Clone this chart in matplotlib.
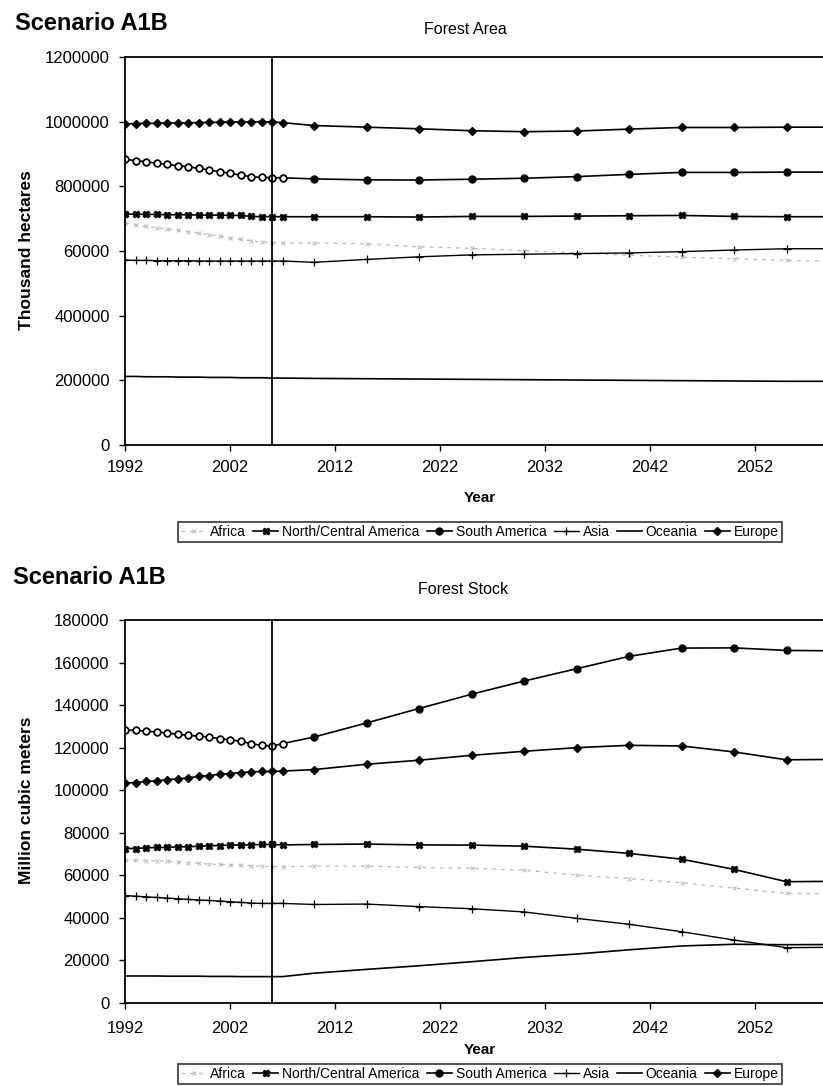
import matplotlib
matplotlib.use("Agg")
import matplotlib.pyplot as plt

plt.rcParams['font.family'] = ['Liberation Sans', 'DejaVu Sans']

# years: annual history to 2007, then 5-year projections
years = list(range(1992, 2008)) + list(range(2010, 2065, 5))
regions = ["Africa", "North/Central America", "South America", "Asia", "Oceania", "Europe"]

# Forest area, thousand hectares
africa_area = [686000, 681000, 676000, 672000, 668000, 664000, 660000, 655000, 651000, 646000, 641000, 636000,
               632000, 628000, 626000, 625000, 625000, 622000, 613000, 608000, 601000, 594000, 587000, 581000,
               576000, 571000, 569000]
ncamerica_area = [714000, 714000, 713000, 713000, 712000, 712000, 712000, 711000, 711000, 711000, 710000, 710000,
                  707000, 706000, 706000, 706000, 706000, 706000, 705000, 707000, 707000, 708000, 709000, 710000,
                  707000, 706000, 706000]
samerica_area = [883900, 879500, 876400, 871200, 868200, 863800, 860700, 855500, 850600, 845300, 840200, 834900,
                 829800, 827700, 827000, 826500, 823000, 820000, 819500, 822000, 825000, 830000, 837000, 843000,
                 843000, 844000, 844000]
asia_area = [572000, 571000, 571000, 570000, 570000, 570000, 570000, 569000, 569000, 569000, 569000, 569000,
             569000, 569000, 569000, 569000, 565000, 574000, 582000, 588000, 590000, 592000, 594000, 598000,
             603000, 607000, 607000]
oceania_area = [212000, 212000, 211000, 211000, 211000, 210000, 210000, 210000, 209000, 209000, 209000, 208000,
                208000, 208000, 207000, 207000, 206000, 205000, 204000, 203000, 202000, 201000, 200000, 199000,
                198000, 197000, 197000]
europe_area = [993000, 994000, 995000, 995000, 996000, 996000, 997000, 997000, 998000, 998000, 999000, 999000,
               999000, 1000000, 999000, 997000, 988000, 983000, 978000, 972000, 969000, 971000, 977000, 982000,
               982000, 983000, 983000]

# Forest stock, million cubic meters
africa_stock = [67100, 67000, 66900, 66800, 66600, 66300, 66000, 65700, 65300, 65100, 64900, 64700,
                64500, 64300, 64100, 64000, 64300, 64300, 63700, 63300, 62400, 60100, 58500, 56500,
                54000, 51500, 51500]
ncamerica_stock = [72600, 72600, 72900, 73100, 73100, 73400, 73400, 73700, 73900, 74000, 74200, 74200,
                   74300, 74500, 74500, 74300, 74500, 74700, 74300, 74200, 73700, 72300, 70300, 67600,
                   62800, 57000, 57200]
samerica_stock = [128200, 128200, 127700, 127400, 126900, 126300, 125800, 125400, 125000, 124300, 123700, 123000,
                  121900, 121100, 120800, 121900, 125000, 131600, 138400, 145100, 151300, 157100, 162900, 166800,
                  166900, 165700, 165500]
asia_stock = [50500, 50200, 49900, 49600, 49300, 49000, 48700, 48400, 48200, 47900, 47600, 47300,
              47000, 46800, 46800, 46800, 46300, 46500, 45300, 44300, 42800, 39800, 37000, 33500,
              29600, 26000, 26200]
oceania_stock = [12700, 12700, 12700, 12700, 12600, 12600, 12600, 12600, 12500, 12500, 12500, 12400,
                 12400, 12400, 12400, 12400, 14000, 15800, 17500, 19400, 21400, 23000, 25000, 26800,
                 27600, 27400, 27500]
europe_stock = [103400, 103600, 104100, 104400, 105000, 105300, 105800, 106500, 106900, 107500, 107800, 108300,
                108600, 108800, 108800, 109000, 109700, 112200, 114100, 116400, 118300, 120000, 121100, 120800,
                118000, 114300, 114500]

area_ticks = [0, 200000, 400000, 600000, 800000, 1000000, 1200000]
area_labels = ["0", "200000", "400000", "60000", "800000", "1000000", "1200000"]
stock_ticks = [0, 20000, 40000, 60000, 80000, 100000, 120000, 140000, 160000, 180000]
stock_labels = [str(v) for v in stock_ticks]
x_ticks = [1992, 2002, 2012, 2022, 2032, 2042, 2052]
last_history_year = 2006
n_hist = 16


def draw_panel(ax, series, yticks, ylabels):
    africa, ncam, sam, asia, oce, eur = series
    h = []
    h += ax.plot(years, africa, color="#b8b8b8", lw=0.9, ls=(0, (3, 4)), marker="x", ms=3, mew=0.7)
    h += ax.plot(years, ncam, color="black", lw=1.2, marker="X", ms=5)
    h += ax.plot(years, sam, color="black", lw=1.2, marker="o", ms=5)
    # historical points print as open circles
    ax.plot(years[:n_hist], sam[:n_hist], ls="none", marker="o", ms=4.5, mfc="white", mec="black", mew=1.0)
    h += ax.plot(years, asia, color="black", lw=1.0, marker="+", ms=6, mew=0.9)
    h += ax.plot(years, oce, color="black", lw=1.2)
    h += ax.plot(years, eur, color="black", lw=1.2, marker="D", ms=4)
    ax.axvline(last_history_year, color="black", lw=1.3)
    ax.set_xlim(1992, 2060)
    ax.set_ylim(yticks[0], yticks[-1])
    ax.set_xticks(x_ticks)
    ax.set_xticklabels([str(x) for x in x_ticks])
    ax.set_yticks(yticks)
    ax.set_yticklabels(ylabels)
    ax.tick_params(direction="out", length=4, width=1, labelsize=12, pad=7)
    for s in ax.spines.values():
        s.set_linewidth(1.3)
    return h


fig = plt.figure(figsize=(8.23, 10.86), dpi=100)
ax1 = fig.add_axes([125 / 823, 1 - 445 / 1086, 714 / 823, 388 / 1086])
ax2 = fig.add_axes([125 / 823, 1 - 1003 / 1086, 714 / 823, 383 / 1086])

h1 = draw_panel(ax1, [africa_area, ncamerica_area, samerica_area, asia_area, oceania_area, europe_area],
                area_ticks, area_labels)
h2 = draw_panel(ax2, [africa_stock, ncamerica_stock, samerica_stock, asia_stock, oceania_stock, europe_stock],
                stock_ticks, stock_labels)
ax2.tick_params(axis="x", pad=9)

# titles and labels
fig.text(15 / 823, 1 - 23 / 1086, "Scenario A1B", fontsize=17, fontweight="bold", ha="left", va="center")
fig.text(465 / 823, 1 - 30 / 1086, "Forest Area", fontsize=11.5, ha="center", va="center")
fig.text(13 / 823, 1 - 578 / 1086, "Scenario A1B", fontsize=17, fontweight="bold", ha="left", va="center")
fig.text(463 / 823, 1 - 589 / 1086, "Forest Stock", fontsize=11.5, ha="center", va="center")

fig.text(27 / 823, 1 - 250 / 1086, "Thousand hectares", fontsize=12.5, fontweight="bold",
         rotation=90, ha="center", va="center")
fig.text(27 / 823, 1 - 800 / 1086, "Million cubic meters", fontsize=12.5, fontweight="bold",
         rotation=90, ha="center", va="center")

fig.text(480 / 823, 1 - 498 / 1086, "Year", fontsize=11, fontweight="bold", ha="center", va="center")
fig.text(480 / 823, 1 - 1050 / 1086, "Year", fontsize=11, fontweight="bold", ha="center", va="center")

for h, ytop in [(h1, 515), (h2, 1057)]:
    leg = fig.legend(h, regions, loc="upper center", bbox_to_anchor=(480 / 823, 1 - ytop / 1086),
                     ncol=6, fontsize=10, frameon=True, fancybox=False, edgecolor="black",
                     handlelength=1.8, handletextpad=0.3, columnspacing=0.5, borderpad=0.22)
    leg.get_frame().set_linewidth(1.2)

plt.savefig("out.png", dpi=100)
